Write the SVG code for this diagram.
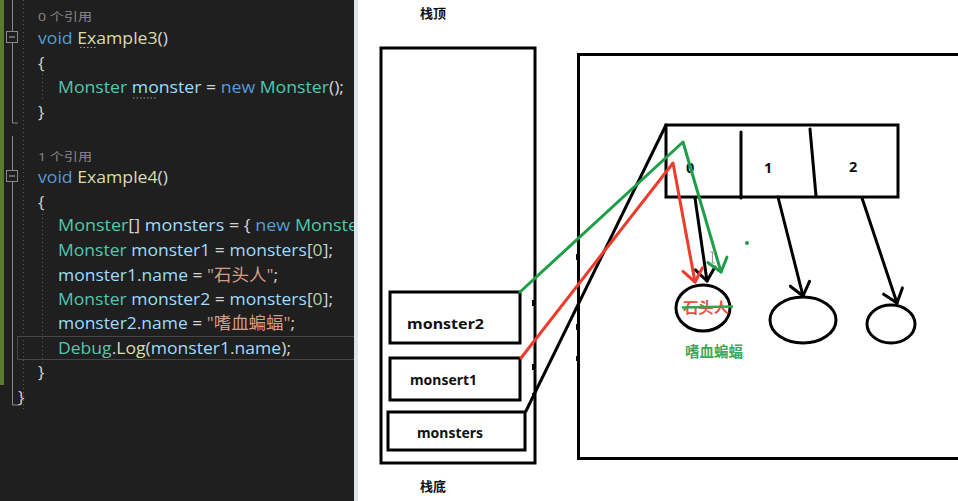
<svg xmlns="http://www.w3.org/2000/svg" width="958" height="501" viewBox="0 0 958 501">
<defs>
<style>
.code{font-family:"Open Sans","Noto Sans CJK SC",sans-serif;font-size:17px}
.ref{font-family:"Open Sans","Noto Sans CJK SC",sans-serif;font-size:11.5px;fill:#8a8a8a}
.kw{fill:#569cd6}.fn{fill:#dcdcaa}.ty{fill:#4ec9b0}.va{fill:#9cdcfe}.pu{fill:#d4d4d4}.st{fill:#d69d85}.nu{fill:#b5cea8}
.box{fill:none;stroke:#000;stroke-width:3}
.lbl{font-family:"Noto Sans","Noto Sans CJK SC",sans-serif;font-weight:bold;font-size:14.5px;fill:#111}
.cn{font-family:"Noto Sans CJK SC","Noto Sans",sans-serif;font-weight:bold;font-size:13px;fill:#111}
.blk{fill:none;stroke:#000;stroke-width:3;stroke-linecap:round;stroke-linejoin:round}
.red{fill:none;stroke:#ee3b2b;stroke-width:3;stroke-linecap:round;stroke-linejoin:round}
.grn{fill:none;stroke:#1f9e48;stroke-width:3;stroke-linecap:round;stroke-linejoin:round}
.guide{stroke:#5a5a5a;stroke-width:1;stroke-dasharray:1 3}
</style>
<clipPath id="codeclip"><rect x="0" y="0" width="354" height="501"/></clipPath>
<marker id="ah-b" viewBox="-15 -12 17 24" refX="0" refY="0" markerWidth="17" markerHeight="24" markerUnits="userSpaceOnUse" orient="auto"><path d="M-12.6,-9.9 L0,0 L-12.6,9.9" fill="none" stroke="#000" stroke-width="3" stroke-linecap="round" stroke-linejoin="round"/></marker>
<marker id="ah-r" viewBox="-15 -12 17 24" refX="0" refY="0" markerWidth="17" markerHeight="24" markerUnits="userSpaceOnUse" orient="auto"><path d="M-12.6,-9.9 L0,0 L-12.6,9.9" fill="none" stroke="#ee3b2b" stroke-width="3" stroke-linecap="round" stroke-linejoin="round"/></marker>
<marker id="ah-g" viewBox="-15 -12 17 24" refX="0" refY="0" markerWidth="17" markerHeight="24" markerUnits="userSpaceOnUse" orient="auto"><path d="M-12.6,-9.9 L0,0 L-12.6,9.9" fill="none" stroke="#1f9e48" stroke-width="3" stroke-linecap="round" stroke-linejoin="round"/></marker>
</defs>

<rect x="0" y="0" width="958" height="501" fill="#ffffff"/>

<g id="code-panel">
<rect x="0" y="0" width="354" height="501" fill="#1f1f1f"/>
<rect x="354" y="0" width="4" height="501" fill="#dfe3ea"/>
<rect x="0" y="0" width="4" height="385" fill="#587c2c"/>
<path d="M12.5,0 V31 M12.5,43 V123 H18 M12.5,136 V170 M12.5,182 V405 H19" stroke="#8a8a8a" stroke-width="1" fill="none"/>
<rect x="6.5" y="31.5" width="11" height="11" fill="#1f1f1f" stroke="#8a8a8a"/>
<path d="M9,37 H15" stroke="#b0b0b0"/>
<rect x="6.5" y="170.5" width="11" height="11" fill="#1f1f1f" stroke="#8a8a8a"/>
<path d="M9,176 H15" stroke="#b0b0b0"/>
<line class="guide" x1="23.5" y1="0" x2="23.5" y2="410"/>
<line class="guide" x1="42.5" y1="74" x2="42.5" y2="102"/>
<line class="guide" x1="42.5" y1="214" x2="42.5" y2="364"/>
<path d="M80,47.5 H96 M133,98 H156" stroke="#9a9a9a" stroke-width="1.2" stroke-dasharray="1.5 2"/>
<g clip-path="url(#codeclip)">
<rect x="17.5" y="336.5" width="350" height="23" fill="none" stroke="#464646" stroke-width="1"/>
<text class="ref" x="38" y="21" textLength="54" lengthAdjust="spacingAndGlyphs">0 个引用</text>
<text class="code" x="38" y="44" textLength="130" lengthAdjust="spacingAndGlyphs"><tspan class="kw">void</tspan> <tspan class="fn">Example3</tspan><tspan class="pu">()</tspan></text>
<text class="code pu" x="38" y="69">{</text>
<text class="code" x="58" y="93" textLength="286" lengthAdjust="spacingAndGlyphs"><tspan class="ty">Monster</tspan> <tspan class="va">monster</tspan><tspan class="pu"> = </tspan><tspan class="kw">new</tspan> <tspan class="ty">Monster</tspan><tspan class="pu">();</tspan></text>
<text class="code pu" x="38" y="118">}</text>
<text class="ref" x="38" y="161" textLength="54" lengthAdjust="spacingAndGlyphs">1 个引用</text>
<text class="code" x="38" y="183" textLength="130" lengthAdjust="spacingAndGlyphs"><tspan class="kw">void</tspan> <tspan class="fn">Example4</tspan><tspan class="pu">()</tspan></text>
<text class="code pu" x="38" y="208">{</text>
<text class="code" x="58" y="231" textLength="300" lengthAdjust="spacingAndGlyphs"><tspan class="ty">Monster</tspan><tspan class="pu">[]</tspan> <tspan class="va">monsters</tspan><tspan class="pu"> = { </tspan><tspan class="kw">new</tspan> <tspan class="ty">Monste</tspan></text>
<text class="code" x="58" y="256" textLength="275" lengthAdjust="spacingAndGlyphs"><tspan class="ty">Monster</tspan> <tspan class="va">monster1</tspan><tspan class="pu"> = </tspan><tspan class="va">monsters</tspan><tspan class="pu">[</tspan><tspan class="nu">0</tspan><tspan class="pu">];</tspan></text>
<text class="code" x="58" y="281" textLength="220" lengthAdjust="spacingAndGlyphs"><tspan class="va">monster1</tspan><tspan class="pu">.</tspan><tspan class="va">name</tspan><tspan class="pu"> = </tspan><tspan class="st">"石头人"</tspan><tspan class="pu">;</tspan></text>
<text class="code" x="58" y="305" textLength="275" lengthAdjust="spacingAndGlyphs"><tspan class="ty">Monster</tspan> <tspan class="va">monster2</tspan><tspan class="pu"> = </tspan><tspan class="va">monsters</tspan><tspan class="pu">[</tspan><tspan class="nu">0</tspan><tspan class="pu">];</tspan></text>
<text class="code" x="58" y="329" textLength="237" lengthAdjust="spacingAndGlyphs"><tspan class="va">monster2</tspan><tspan class="pu">.</tspan><tspan class="va">name</tspan><tspan class="pu"> = </tspan><tspan class="st">"嗜血蝙蝠"</tspan><tspan class="pu">;</tspan></text>
<text class="code" x="58" y="354" textLength="233" lengthAdjust="spacingAndGlyphs"><tspan class="ty">Debug</tspan><tspan class="pu">.</tspan><tspan class="fn">Log</tspan><tspan class="pu">(</tspan><tspan class="va">monster1</tspan><tspan class="pu">.</tspan><tspan class="va">name</tspan><tspan class="pu">);</tspan></text>
<text class="code pu" x="38" y="378">}</text>
<text class="code pu" x="18" y="403">}</text>
</g>
</g>

<g id="stack">
<rect class="box" x="381" y="48" width="154" height="415"/>
<text class="cn" x="420" y="18">栈顶</text>
<text class="cn" x="420" y="491">栈底</text>
</g>
<g id="monster2">
<rect class="box" x="390" y="292" width="130" height="51"/>
<text class="lbl" x="407" y="329" textLength="77" lengthAdjust="spacingAndGlyphs">monster2</text>
</g>
<g id="monsert1">
<rect class="box" x="390" y="358" width="130" height="42"/>
<text class="lbl" x="410" y="385" textLength="67" lengthAdjust="spacingAndGlyphs">monsert1</text>
</g>
<g id="monsters">
<rect class="box" x="388" y="412" width="137" height="38"/>
<text class="lbl" x="417" y="438" textLength="66" lengthAdjust="spacingAndGlyphs">monsters</text>
</g>

<g id="heap">
<path class="box" d="M962,54.5 H578.5 V458.5 H962"/>
</g>
<g id="array">
<rect class="box" x="666" y="125" width="232" height="72"/>
<path class="blk" d="M741,132 V198 M810,129 L816,196"/>
<text class="lbl" x="686" y="173">0</text>
<text class="lbl" x="764" y="173">1</text>
<text class="lbl" x="849" y="172">2</text>
</g>
<g id="obj0">
<ellipse class="box" cx="703" cy="308" rx="27" ry="23"/>
<text x="683" y="313" font-family="'Noto Sans CJK SC',sans-serif" font-weight="bold" font-size="14.5px" fill="#e8503c" textLength="46" lengthAdjust="spacingAndGlyphs">石头人</text>
<line x1="682" y1="307.5" x2="733" y2="306.5" stroke="#2ea84a" stroke-width="2.5"/>
<text x="685" y="357" font-family="'Noto Sans CJK SC',sans-serif" font-weight="bold" font-size="14.5px" fill="#3aaa5a" textLength="58" lengthAdjust="spacingAndGlyphs">嗜血蝙蝠</text>
</g>
<g id="obj1">
<ellipse class="box" cx="803" cy="320" rx="33" ry="23"/>
</g>
<g id="obj2">
<ellipse class="box" cx="891" cy="324" rx="24" ry="19"/>
</g>

<g id="connectors">
<polyline class="blk" points="526,411 666,125"/>
<line class="blk" x1="695" y1="198" x2="707" y2="281" marker-end="url(#ah-b)"/>
<line class="blk" x1="778" y1="197" x2="803" y2="296" marker-end="url(#ah-b)"/>
<line class="blk" x1="862" y1="198" x2="897" y2="303" marker-end="url(#ah-b)"/>
<polyline class="red" points="521,358 673,163 695,282" marker-end="url(#ah-r)"/>
<polyline class="grn" points="520,292 683,142 721,272" marker-end="url(#ah-g)"/>
</g>

<g id="marks">
<path d="M534,300 v6 M534,364 v6 M534,393 v5 M578,254 v6 M578,324 v6 M578,356 v5" stroke="#000" stroke-width="4"/>
<circle cx="747" cy="243" r="2" fill="#1f9e48"/>
<path d="M710,252 h5 M712.5,252 v11 M710,263 h5" stroke="#9a9a9a" stroke-width="1.2" fill="none"/>
</g>
</svg>
